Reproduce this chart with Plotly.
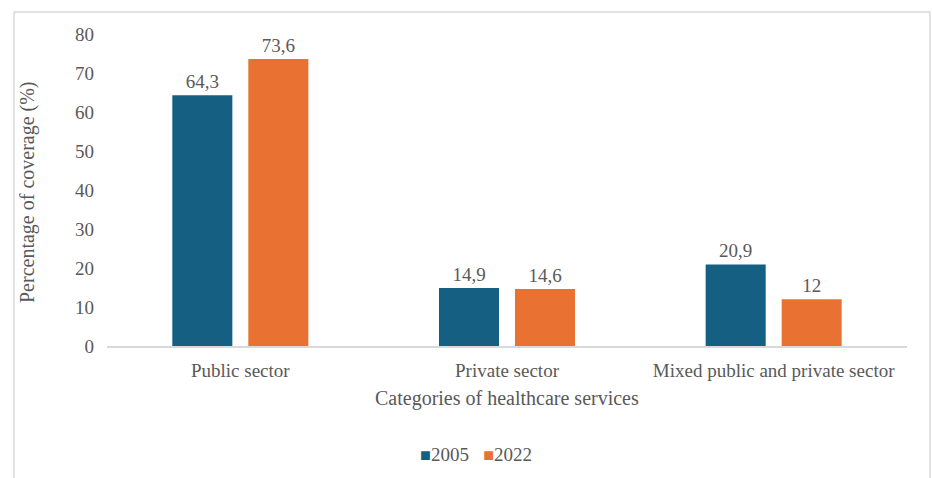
import plotly.graph_objects as go

categories = ["Public sector", "Private sector", "Mixed public and private sector"]
series_names = ["2005", "2022"]
values_2005 = [64.3, 14.9, 20.9]
values_2022 = [73.6, 14.6, 12]
colors = ["#156082", "#E97132"]
y_ticks = [0, 10, 20, 30, 40, 50, 60, 70, 80]

FONT = "Liberation Serif"
GRAY = "#595959"
FS = 19

def fmt(v):
    s = ("%g" % v)
    return s.replace(".", ",")

fig = go.Figure()
for name, vals, col in zip(series_names, [values_2005, values_2022], colors):
    fig.add_trace(go.Bar(
        x=categories, y=vals, name=name,
        marker=dict(color=col, line=dict(width=0)),
        text=[fmt(v) for v in vals], textposition="outside",
        textfont=dict(family=FONT, size=FS, color=GRAY),
        cliponaxis=False, showlegend=False,
    ))

W, H = 932, 478
L, R, T, B = 107, 25, 34, 132
pw, ph = W - L - R, H - T - B

def px_x(x):
    return (x - L) / pw

def px_y(y):
    return (H - B - y) / ph

legend_text = "&nbsp;&nbsp;&nbsp;".join(
    "<span style='color:%s;font-size:18px'>■</span>%s" % (c, n)
    for n, c in zip(series_names, colors)
)

fig.update_layout(
    width=W, height=H,
    margin=dict(l=L, r=R, t=T, b=B, autoexpand=False),
    paper_bgcolor="white", plot_bgcolor="white",
    barmode="group", bargap=0.43, bargroupgap=0.21,
    font=dict(family=FONT, size=FS, color=GRAY),
    showlegend=False,
    xaxis=dict(showline=True, linecolor="#D9D9D9", linewidth=1.5,
               ticks="", showgrid=False, automargin=False,
               ticklabelstandoff=6,
               tickfont=dict(family=FONT, size=FS, color=GRAY)),
    yaxis=dict(range=[0, 80], tickvals=y_ticks, showgrid=False,
               zeroline=False, showline=False, ticks="", automargin=False,
               ticklabelstandoff=12,
               tickfont=dict(family=FONT, size=FS, color=GRAY)),
    shapes=[dict(type="rect", xref="paper", yref="paper",
                 x0=px_x(14), x1=px_x(930), y0=px_y(500), y1=px_y(12),
                 line=dict(color="#D9D9D9", width=1.5), fillcolor="rgba(0,0,0,0)",
                 layer="below")],
    annotations=[
        dict(text="Categories of healthcare services", xref="paper", yref="paper",
             x=px_x(507), y=px_y(398), xanchor="center", yanchor="middle",
             showarrow=False, font=dict(family=FONT, size=FS + 1, color=GRAY)),
        dict(text="Percentage of coverage (%)", xref="paper", yref="paper",
             x=px_x(27), y=px_y(192), xanchor="center", yanchor="middle",
             textangle=-90, showarrow=False,
             font=dict(family=FONT, size=FS + 1, color=GRAY)),
        dict(text=legend_text, xref="paper", yref="paper",
             x=px_x(476), y=px_y(454), xanchor="center", yanchor="middle",
             showarrow=False, font=dict(family=FONT, size=FS, color=GRAY)),
    ],
)

fig.write_html("out.html")
